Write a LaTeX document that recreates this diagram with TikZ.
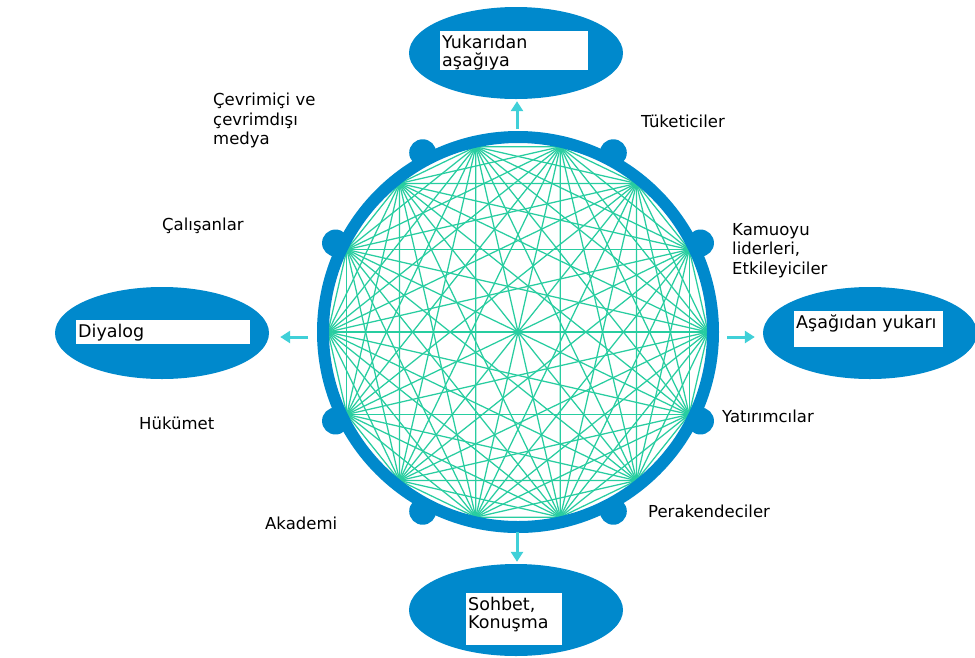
\documentclass[tikz,border=0pt]{standalone}
\usepackage{fontspec}
\setmainfont{DejaVu Sans}
\usetikzlibrary{calc,arrows.meta,shapes.geometric}
\definecolor{ringblue}{RGB}{0,137,204}
\definecolor{meshgreen}{RGB}{40,205,160}
\definecolor{arrowc}{RGB}{64,208,216}
\newcommand{\bxtext}[3]{\parbox[c][#2pt][t]{#1pt}{\raggedright #3}}
\tikzset{
  ring/.style={draw=ringblue,line width=12pt},
  meshline/.style={draw=meshgreen,line width=1.25pt},
  blob/.style={circle,fill=ringblue,minimum size=27pt,inner sep=0pt},
  ell/.style={ellipse,fill=ringblue,minimum width=214pt,minimum height=92pt,inner sep=0pt},
  arr/.style={draw=arrowc,line width=3pt,-{Triangle[length=10pt,width=12pt]}},
  wbox/.style={fill=white,inner xsep=2pt,inner ysep=3.5pt,anchor=north west,font=\fontsize{17.5}{18}\selectfont},
  lbl/.style={inner sep=0pt,font=\fontsize{16.5}{19.5}\selectfont,align=left}
}
\begin{document}
\begin{tikzpicture}[x=1pt,y=-1pt]
\useasboundingbox (0,0) rectangle (975,657);
\clip (0,0) rectangle (975,657);
\fill[white] (0,0) rectangle (975,657);
\coordinate (c) at (518,332);
% mesh points
\foreach \i in {0,...,13} \coordinate (p\i) at ($(c)+(\i*360/14:190)$);
\foreach \i in {0,...,13} {\foreach \j in {0,...,13} {\ifnum\i<\j \draw[meshline] (p\i) -- (p\j);\fi}}
% ring
\draw[ring] (c) circle[radius=195pt];
% dots
\foreach \a [count=\k] in {26,62,118,154,206,242,298,334}
  \node[blob] (d\k) at ($(c)+(\a:203)$) {};
% ellipses
\node[ell] (etop) at (516,53) {};
\node[ell] (eleft) at (162,333) {};
\node[ell] (eright) at (870,333) {};
\node[ell] (ebot) at (516,610) {};
% arrows
\coordinate (at) at (517,129);
\coordinate (al) at (308,337);
\coordinate (ar) at (727,337);
\coordinate (ab) at (517,532);
\draw[arr,shorten >=2pt] (at) -- (at |- etop.south);
\draw[arr,shorten >=11pt] (al) -- (al -| eleft.east);
\draw[arr,shorten >=8pt] (ar) -- (ar -| eright.west);
\draw[arr,shorten >=2pt] (ab) -- (ab |- ebot.north);
% white boxes
\node[wbox] (btop) at (440,31) {\bxtext{144}{32}{Yukarıdan\\aşağıya}};
\node[wbox] (bleft) at (76,320) {\bxtext{170}{17}{Diyalog}};
\node[wbox] (bright) at (794,311) {\bxtext{145}{29}{Aşağıdan yukarı}};
\node[wbox] (bbot) at (466,593) {\bxtext{92}{45}{Sohbet,\\Konuşma}};
% labels
\node[lbl,anchor=north west] (lmedia) at (213,93) {Çevrimiçi ve\\çevrimdışı\\medya};
\node[lbl,anchor=base west] (lcons) at (641,127) {Tüketiciler};
\node[lbl,anchor=base west] (lemp) at (162,230) {Çalışanlar};
\node[lbl,anchor=north west] (lop) at (732,223) {Kamuoyu\\liderleri,\\Etkileyiciler};
\node[lbl,anchor=base west] (linv) at (722,422) {Yatırımcılar};
\node[lbl,anchor=base west] (lgov) at (139,429) {Hükümet};
\node[lbl,anchor=base west] (lacad) at (265,529) {Akademi};
\node[lbl,anchor=base west] (lret) at (648,517) {Perakendeciler};
\end{tikzpicture}
\end{document}
